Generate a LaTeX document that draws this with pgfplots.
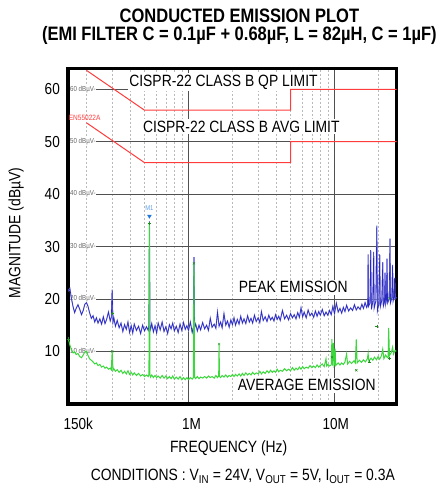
\documentclass[border=0pt]{standalone}
\usepackage{fontspec}
\setmainfont{Liberation Sans}[FakeStretch=0.85]
\usepackage{pgfplots}
\usepackage{pgfplotstable}
\pgfplotsset{compat=1.18}
\definecolor{peakblue}{RGB}{40,40,190}
\definecolor{peakhalo}{RGB}{150,150,232}
\definecolor{avggreen}{RGB}{60,215,60}
\definecolor{mkgreen}{RGB}{30,140,30}
\definecolor{limred}{RGB}{255,60,60}
\definecolor{gridmaj}{RGB}{80,80,80}
\definecolor{gridmin}{RGB}{185,185,185}
\definecolor{mblue}{RGB}{30,120,220}

\pgfplotstableread{
f v
150e3 21.5
154e3 22.0
158e3 20.0
162e3 18.5
166e3 17.4
170e3 18.2
175e3 18.9
180e3 18.0
185e3 17.0
190e3 17.8
195e3 19.0
200e3 19.3
205e3 18.6
210e3 17.4
216e3 16.3
222e3 16.8
228e3 15.6
234e3 16.4
240e3 15.4
247e3 16.2
254e3 15.2
261e3 16.6
268e3 15.3
275e3 16.1
283e3 17.5
291e3 15.8
296e3 16.5
300e3 21.8
304e3 15.6
308e3 16.4
316e3 14.8
325e3 15.9
335e3 14.5
345e3 15.4
355e3 13.8
365e3 15.1
375e3 14.2
385e3 15.6
395e3 13.6
405e3 14.9
415e3 13.5
425e3 15.2
440e3 14.0
455e3 14.8
470e3 13.4
485e3 15.0
500e3 13.9
515e3 14.7
530e3 14.0
536e3 15.0
540e3 34.8
544e3 15.0
550e3 14.2
560e3 15.3
575e3 13.7
590e3 14.9
605e3 13.5
620e3 15.4
640e3 14.1
660e3 15.6
680e3 13.8
700e3 14.7
720e3 13.4
740e3 15.1
760e3 14.3
780e3 15.4
800e3 13.9
825e3 14.8
850e3 13.6
875e3 15.2
900e3 14.0
925e3 15.5
950e3 14.2
975e3 14.9
1.00e6 14.0
1.03e6 15.6
1.06e6 13.6
1.08e6 14.6
1.09e6 28.0
1.10e6 14.5
1.12e6 15.2
1.15e6 13.9
1.18e6 15.0
1.21e6 14.1
1.25e6 15.5
1.29e6 14.3
1.33e6 15.0
1.37e6 14.0
1.41e6 16.3
1.45e6 14.6
1.50e6 15.2
1.54e6 14.4
1.58e6 17.5
1.62e6 14.8
1.66e6 15.6
1.70e6 14.5
1.75e6 17.2
1.80e6 15.0
1.85e6 15.8
1.90e6 14.6
1.95e6 16.0
2.00e6 15.1
2.05e6 16.4
2.10e6 15.0
2.16e6 16.1
2.22e6 15.2
2.28e6 16.7
2.34e6 15.4
2.40e6 16.2
2.47e6 15.3
2.54e6 16.8
2.61e6 15.6
2.68e6 16.3
2.75e6 15.4
2.83e6 16.9
2.91e6 15.7
3.00e6 16.4
3.08e6 15.5
3.16e6 17.6
3.25e6 15.9
3.35e6 16.6
3.45e6 15.7
3.55e6 16.9
3.65e6 16.0
3.75e6 16.5
3.85e6 15.8
3.95e6 17.0
4.05e6 16.1
4.15e6 16.7
4.25e6 15.9
4.40e6 17.8
4.55e6 16.2
4.70e6 16.9
4.85e6 16.0
5.00e6 17.2
5.15e6 16.4
5.30e6 17.0
5.45e6 16.2
5.60e6 17.4
5.75e6 16.5
5.90e6 18.3
6.05e6 16.6
6.20e6 17.5
6.40e6 16.4
6.60e6 17.9
6.80e6 16.8
7.00e6 17.3
7.20e6 16.5
7.40e6 17.7
7.60e6 16.7
7.80e6 17.6
8.00e6 16.9
8.25e6 18.0
8.50e6 16.8
8.75e6 17.5
9.00e6 16.9
9.25e6 17.8
9.50e6 17.0
9.75e6 18.6
1.00e7 17.2
1.03e7 19.2
1.06e7 17.5
1.09e7 18.2
1.12e7 17.3
1.15e7 18.4
1.18e7 17.6
1.21e7 18.8
1.25e7 17.7
1.29e7 18.3
1.33e7 17.8
1.37e7 18.9
1.41e7 17.9
1.45e7 18.5
1.50e7 18.0
1.54e7 19.0
1.58e7 18.2
1.62e7 19.3
1.66e7 18.4
1.69e7 19.0
1.70e7 28.5
1.71e7 18.6
1.75e7 19.2
1.77e7 29.3
1.79e7 18.0
1.83e7 19.5
1.855e7 29.0
1.87e7 18.3
1.92e7 19.6
1.95e7 34.0
1.97e7 17.8
2.01e7 19.0
2.04e7 28.5
2.06e7 18.5
2.11e7 19.8
2.14e7 27.0
2.16e7 18.6
2.20e7 19.4
2.22e7 25.0
2.24e7 19.0
2.27e7 19.8
2.29e7 27.7
2.31e7 19.2
2.37e7 20.0
2.40e7 31.5
2.42e7 19.3
2.47e7 20.2
2.50e7 26.5
2.52e7 19.6
2.56e7 20.4
2.58e7 24.0
2.60e7 20.0
2.65e7 20.3
}\peak

\pgfplotstableread{
f v
150e3 12.5
154e3 11.2
158e3 10.3
162e3 9.7
166e3 9.9
170e3 9.4
175e3 9.6
180e3 9.0
185e3 8.8
190e3 9.3
195e3 9.9
200e3 10.0
205e3 9.2
210e3 8.6
216e3 8.3
222e3 8.0
228e3 7.6
234e3 7.8
240e3 7.3
247e3 7.5
254e3 7.0
261e3 7.2
268e3 6.8
275e3 7.0
283e3 6.6
291e3 6.8
296e3 6.5
300e3 10.0
304e3 6.4
308e3 6.7
316e3 6.2
325e3 6.5
335e3 6.0
345e3 6.4
355e3 5.8
365e3 6.2
375e3 5.7
385e3 6.3
395e3 5.6
405e3 6.0
415e3 5.5
425e3 5.9
440e3 5.4
455e3 5.8
470e3 5.3
485e3 5.6
500e3 5.2
515e3 5.5
530e3 5.2
536e3 5.6
540e3 34.4
544e3 5.6
550e3 5.1
560e3 5.5
575e3 5.0
590e3 5.4
605e3 5.0
620e3 5.3
640e3 4.9
660e3 5.4
680e3 4.9
700e3 5.3
720e3 4.8
740e3 5.2
760e3 4.8
780e3 5.3
800e3 4.7
825e3 5.1
850e3 4.7
875e3 5.2
900e3 4.6
925e3 5.0
950e3 4.6
975e3 5.0
1.00e6 4.6
1.03e6 5.0
1.06e6 4.7
1.08e6 5.0
1.09e6 26.7
1.10e6 5.1
1.12e6 4.8
1.15e6 5.2
1.18e6 4.8
1.21e6 5.1
1.25e6 4.9
1.29e6 5.2
1.33e6 4.9
1.37e6 5.3
1.41e6 5.0
1.45e6 5.2
1.50e6 4.9
1.54e6 5.4
1.58e6 5.0
1.61e6 5.3
1.62e6 11.3
1.63e6 5.2
1.66e6 5.0
1.70e6 5.4
1.75e6 5.1
1.80e6 5.5
1.85e6 5.1
1.90e6 5.4
1.95e6 5.2
2.00e6 5.6
2.05e6 5.2
2.10e6 5.6
2.16e6 5.3
2.22e6 5.7
2.28e6 5.3
2.34e6 5.8
2.40e6 5.4
2.47e6 5.9
2.54e6 5.5
2.61e6 5.8
2.68e6 5.5
2.75e6 6.0
2.83e6 5.6
2.91e6 5.9
3.00e6 5.7
3.08e6 6.2
3.16e6 5.7
3.25e6 6.1
3.35e6 5.8
3.45e6 6.3
3.55e6 5.9
3.65e6 6.4
3.75e6 6.0
3.85e6 6.3
3.95e6 6.0
4.05e6 6.6
4.15e6 6.1
4.25e6 6.4
4.40e6 6.2
4.55e6 6.7
4.70e6 6.3
4.85e6 6.6
5.00e6 6.3
5.15e6 6.9
5.30e6 6.4
5.45e6 6.8
5.60e6 6.5
5.75e6 7.0
5.90e6 6.6
6.05e6 7.1
6.20e6 6.7
6.40e6 7.0
6.60e6 6.8
6.80e6 7.3
7.00e6 6.9
7.20e6 7.2
7.40e6 6.9
7.60e6 7.4
7.80e6 7.0
8.00e6 7.3
8.25e6 7.6
8.50e6 7.1
8.75e6 8.6
8.85e6 7.2
9.00e6 7.5
9.25e6 7.2
9.50e6 7.4
9.60e6 12.4
9.70e6 7.3
9.85e6 11.6
9.95e6 7.4
1.00e7 7.6
1.01e7 10.5
1.02e7 7.3
1.06e7 7.8
1.09e7 7.4
1.12e7 7.8
1.15e7 7.5
1.18e7 8.0
1.21e7 9.5
1.23e7 7.6
1.27e7 8.1
1.31e7 7.7
1.36e7 8.2
1.39e7 7.8
1.41e7 12.3
1.43e7 7.8
1.48e7 8.3
1.53e7 7.9
1.58e7 8.4
1.63e7 8.0
1.68e7 8.6
1.70e7 9.6
1.72e7 8.1
1.78e7 8.7
1.83e7 8.3
1.88e7 8.9
1.94e7 8.4
1.99e7 9.0
2.04e7 8.5
2.10e7 9.2
2.14e7 10.4
2.18e7 8.6
2.24e7 9.3
2.30e7 8.8
2.33e7 8.8
2.35e7 14.5
2.38e7 9.2
2.45e7 9.8
2.50e7 10.8
2.54e7 9.5
2.60e7 10.2
2.65e7 10.0
}\average

\begin{document}
\begin{tikzpicture}
\path[use as bounding box] (0,0) rectangle (446bp,486bp);
\begin{axis}[
  at={(68.2bp,82.2bp)}, anchor=south west,
  scale only axis, width=328.3bp, height=335.5bp,
  xmode=log, xmin=1.5e5, xmax=2.66e7, ymin=0, ymax=64,
  xtick={1.5e5,1e6,1e7},
  xticklabels={\hspace*{20bp}150k,\hspace*{6bp}1M,\hspace*{2.6bp}10M},
  minor xtick={2e5,3e5,4e5,5e5,6e5,7e5,8e5,9e5,2e6,3e6,4e6,5e6,6e6,7e6,8e6,9e6,2e7},
  ytick={10,20,30,40,50,60},
  major tick length=0pt, minor tick length=0pt,
  xmajorgrids, xminorgrids, ymajorgrids,
  major grid style={gridmaj, line width=0.7bp},
  minor grid style={gridmin, line width=0.6bp, dash pattern=on 2bp off 2bp},
  axis line style={line width=3.5bp, black},
  /pgf/number format/assume math mode=true,
  tick label style={font=\fontsize{16}{16}\selectfont},
  yticklabel style={anchor=east, inner sep=0pt, xshift=-8.2bp},
  xticklabel style={anchor=base, inner sep=0pt, yshift=-26.2bp},
  xlabel={FREQUENCY (Hz)}, ylabel={MAGNITUDE (dBµV)},
  label style={font=\fontsize{16.4}{16.4}\selectfont},
  xlabel style={at={(axis description cs:0.4887,-0.1463)}, anchor=base, inner sep=0pt},
  ylabel style={at={(axis description cs:-0.146,0.5089)}, anchor=base, inner sep=0pt},
  title={CONDUCTED EMISSION PLOT\\(EMI FILTER C = 0.1µF + 0.68µF, L = 82µH, C = 1µF)},
  title style={font=\bfseries\fontsize{19.5}{17.6}\selectfont, align=center,
    at={(axis description cs:0.5214,1)}, anchor=south, inner sep=0pt, yshift=17.6bp},
]
% inline grid labels
\foreach \g in {10,20,30,40,50,60}{
  \edef\tmp{\noexpand\node[anchor=west, fill=white, inner sep=0.5bp, text=gray!80!black,
    font=\noexpand\fontsize{7.3}{7.3}\noexpand\selectfont] at (axis cs:1.53e5,\g) {\g\space dBµV-};}
  \tmp
}
% text labels
\node[anchor=base, fill=white, inner sep=1.5bp, font=\fontsize{16.4}{16.4}\selectfont] at (rel axis cs:0.4730,0.9472) {CISPR-22 CLASS B QP LIMIT};
\node[anchor=base, fill=white, inner sep=1.5bp, font=\fontsize{16.4}{16.4}\selectfont] at (rel axis cs:0.5273,0.8101) {CISPR-22 CLASS B AVG LIMIT};
\node[anchor=base, fill=white, inner sep=1.5bp, font=\fontsize{16.4}{16.4}\selectfont] at (rel axis cs:0.6857,0.3303) {PEAK EMISSION};
\node[anchor=base, fill=white, inner sep=1.5bp, font=\fontsize{16.4}{16.4}\selectfont] at (rel axis cs:0.7265,0.0382) {AVERAGE EMISSION};
\node[anchor=base east, inner sep=0pt, font=\fontsize{11}{11}\selectfont] at (rel axis cs:0.9924,1.0098) {toc11};
% limit lines
\addplot[limred, line width=1.0bp] coordinates {(2e5,63.61) (5e5,56) (5e6,56) (5e6,60) (2.66e7,60)};
\addplot[limred, line width=1.0bp] coordinates {(2e5,53.61) (5e5,46) (5e6,46) (5e6,50) (2.66e7,50)};
\node[anchor=west, inner sep=0pt, text=limred, font=\fontsize{7.7}{7.7}\selectfont] at (axis cs:1.51e5,54.5) {EN55022A};
% traces
\addplot[peakhalo, line width=1.1bp] table[x=f, y=v] {\peak};
\addplot[peakblue, line width=0.6bp] table[x=f, y=v] {\peak};
\addplot[avggreen, line width=1.0bp] table[x=f, y=v] {\average};
% markers
\addplot[only marks, mark=x, mkgreen, mark size=1.6bp] coordinates {(3e5,10.0) (1.09e6,26.8) (1.62e6,11.4) (9.6e6,8.9) (1.41e7,6.4) (2.38e7,20.1)};
\addplot[only marks, mark=+, mkgreen, mark size=1.6bp] coordinates {(1.5e5,12.4) (3e5,17.2) (5.4e5,34.4) (1.74e7,8.0) (1.95e7,14.8) (2.38e7,8.7)};
\addplot[only marks, mark=triangle*, mark options={rotate=180, fill=mblue, draw=mblue}, mark size=2.2bp] coordinates {(5.4e5,35.8)};
\node[anchor=base, inner sep=0pt, text=mblue!70, font=\fontsize{7}{7}\selectfont] at (axis cs:5.4e5,36.8) {M1};
\end{axis}
\node[anchor=base, inner sep=0pt, font=\fontsize{16.4}{16.4}\selectfont] at (242.8bp,5.3bp)
  {CONDITIONS : V\textsubscript{IN} = 24V, V\textsubscript{OUT} = 5V, I\textsubscript{OUT} = 0.3A};
\end{tikzpicture}
\end{document}
